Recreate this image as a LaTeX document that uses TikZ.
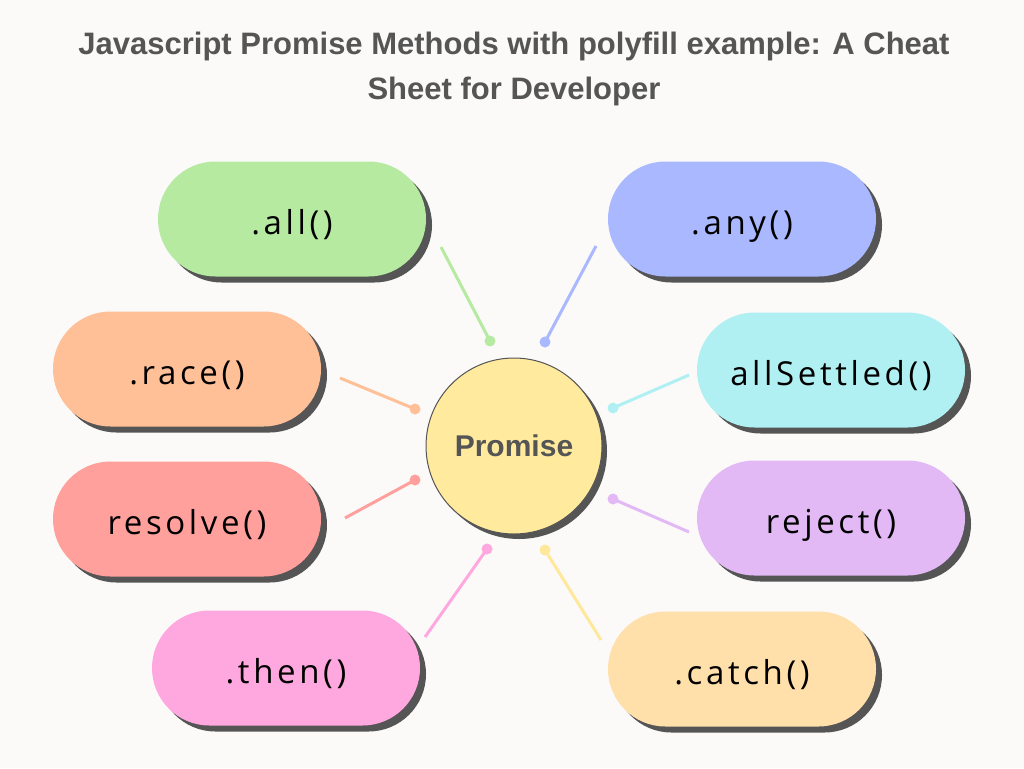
\documentclass[tikz,border=0pt]{standalone}
\usepackage{fontspec}
\setmainfont{Liberation Sans}
\newfontfamily\titlefont{Liberation Sans}
\newfontfamily\pillfont[LetterSpace=11]{Open Sans}
\usepackage{xcolor}
\usetikzlibrary{positioning,shapes.misc,shadows}
\definecolor{bgcol}{RGB}{251,250,249}
\definecolor{inkcol}{RGB}{85,85,85}
\definecolor{shadowcol}{RGB}{85,85,85}
\definecolor{allcol}{RGB}{181,234,160}
\definecolor{anycol}{RGB}{169,184,255}
\definecolor{racecol}{RGB}{255,192,152}
\definecolor{settledcol}{RGB}{176,239,242}
\definecolor{resolvecol}{RGB}{255,160,157}
\definecolor{rejectcol}{RGB}{226,184,245}
\definecolor{thencol}{RGB}{255,168,223}
\definecolor{catchcol}{RGB}{255,223,170}
\definecolor{promcol}{RGB}{255,234,158}
\definecolor{catchline}{RGB}{255,232,154}

\begin{document}
\begin{tikzpicture}[
  x=1pt, y=-1pt,
  pill/.style={rounded rectangle, minimum width=268pt, minimum height=115pt,
               inner sep=0pt, text=black, text depth=0pt, text height=30pt,
               font=\pillfont\fontsize{33}{36}\selectfont,
               drop shadow={shadow xshift=6pt, shadow yshift=-6pt,
                            fill=shadowcol, opacity=1}},
  hub/.style={circle, draw=inkcol, line width=1pt, fill=promcol,
              minimum size=176pt, inner sep=0pt, text=inkcol,
              font=\bfseries\fontsize{30}{34}\selectfont,
              drop shadow={shadow xshift=5pt, shadow yshift=-5pt,
                           fill=shadowcol, opacity=1}},
  dot/.style={circle, inner sep=0pt, minimum size=11pt},
  link/.style={line width=3pt},
]
\fill[bgcol] (0,0) rectangle (1024,768);
\useasboundingbox (0,0) rectangle (1024,768);

% ---------- title ----------
\node[text=inkcol, align=center, font=\titlefont\bfseries\fontsize{31}{45}\selectfont]
  (title) at (514,69) {Javascript Promise Methods with polyfill example: A Cheat\\Sheet for Developer};

% ---------- hub ----------
\node[hub] (promise) at (514,446) {Promise};

% ---------- method pills ----------
\node[pill, fill=allcol] (all) at (292,219) {.all()};
\node[pill, fill=anycol] (any) at (742,219) {.any()};
\node[pill, fill=racecol] (race) at (187,369) {.race()};
\node[pill, fill=settledcol] (settled) at (831,370) {allSettled()};
\node[pill, fill=resolvecol] (resolve) at (187,519) {resolve()};
\node[pill, fill=rejectcol] (reject) at (831,518) {reject()};
\node[pill, fill=thencol] (then) at (286,668) {.then()};
\node[pill, fill=catchcol] (catch) at (742,669) {.catch()};

% ---------- connectors ----------
\node[dot, fill=allcol] (dall) at (490,341) {};
\node[dot, fill=anycol] (dany) at (545,342) {};
\node[dot, fill=racecol] (drace) at (415,409) {};
\node[dot, fill=settledcol] (dsettled) at (613,408) {};
\node[dot, fill=resolvecol] (dresolve) at (415,480) {};
\node[dot, fill=rejectcol] (dreject) at (613,499) {};
\node[dot, fill=thencol] (dthen) at (487,549) {};
\node[dot, fill=catchline] (dcatch) at (545,550) {};

\coordinate (eall) at (441,247);
\coordinate (eany) at (596,246);
\coordinate (erace) at (340,378);
\coordinate (esettled) at (689,375);
\coordinate (eresolve) at (345,518);
\coordinate (ereject) at (689,532);
\coordinate (ethen) at (425,637);
\coordinate (ecatch) at (601,640);

\draw[link, allcol] (eall) -- (dall.center);
\draw[link, anycol] (eany) -- (dany.center);
\draw[link, racecol] (erace) -- (drace.center);
\draw[link, settledcol] (esettled) -- (dsettled.center);
\draw[link, resolvecol] (eresolve) -- (dresolve.center);
\draw[link, rejectcol] (ereject) -- (dreject.center);
\draw[link, thencol] (ethen) -- (dthen.center);
\draw[link, catchline] (ecatch) -- (dcatch.center);

\end{tikzpicture}
\end{document}
